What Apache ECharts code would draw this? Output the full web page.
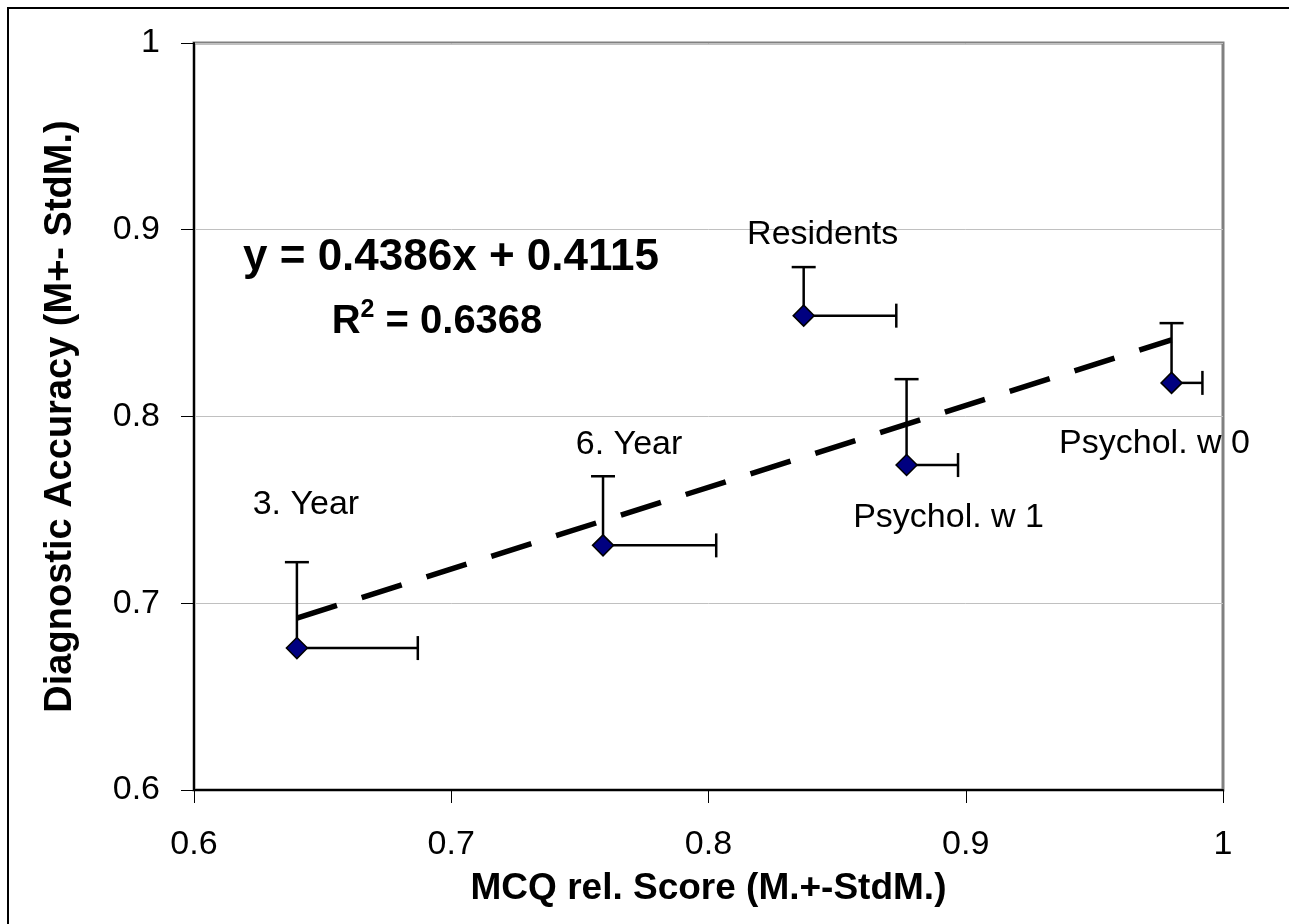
<!DOCTYPE html>
<html>
<head>
<meta charset="utf-8">
<script src="https://cdn.jsdelivr.net/npm/echarts@6/dist/echarts.min.js"></script>
<style>
  html, body { margin: 0; padding: 0; background: #fff; }
  #chart { width: 1289px; height: 924px; }
</style>
</head>
<body>
<div id="chart"></div>
<script>
// groups and their means / std error
const groups = ['3. Year', '6. Year', 'Residents', 'Psychol. w 1', 'Psychol. w 0'];
const mcqScore = [0.640, 0.759, 0.837, 0.877, 0.980];
const mcqStd = [0.047, 0.044, 0.036, 0.020, 0.012];
const accuracy = [0.676, 0.731, 0.854, 0.774, 0.818];
const accuracyStd = [0.046, 0.037, 0.026, 0.046, 0.032];
// linear trendline, ends as drawn
const trendX = [0.64, 0.98];
const trendY = [0.692, 0.841];
const xTicks = [0.6, 0.7, 0.8, 0.9, 1];
const yTicks = [0.6, 0.7, 0.8, 0.9, 1];

const FONT = "'Liberation Sans', Arial, sans-serif";
// label placement next to each point (px)
const labelOffsets = [[9, -143], [26, -101], [19, -81], [42, 53], [-17, 61]];

const chart = echarts.init(document.getElementById('chart'));

const points = groups.map((g, i) => ({
  name: g,
  value: [mcqScore[i], accuracy[i]],
  label: { offset: labelOffsets[i] }
}));
const errData = groups.map((g, i) => [mcqScore[i], accuracy[i], mcqStd[i], accuracyStd[i]]);

const option = {
  animation: false,
  backgroundColor: '#fff',
  grid: {
    left: 194, top: 43, right: 66, bottom: 134,
    show: true, borderColor: '#808080', borderWidth: 3
  },
  xAxis: {
    type: 'value',
    min: xTicks[0], max: xTicks[xTicks.length - 1], interval: 0.1,
    name: 'MCQ rel. Score (M.+-StdM.)',
    nameLocation: 'middle', nameGap: 80,
    nameTextStyle: { fontFamily: FONT, fontSize: 37, fontWeight: 'bold', color: '#000' },
    axisLine: { show: true, lineStyle: { color: '#000', width: 2 } },
    axisTick: { show: true, length: 13, lineStyle: { color: '#000', width: 1 } },
    axisLabel: { fontFamily: FONT, fontSize: 34, color: '#000', margin: 38 },
    splitLine: { show: false }
  },
  yAxis: {
    type: 'value',
    min: yTicks[0], max: yTicks[yTicks.length - 1], interval: 0.1,
    name: 'Diagnostic Accuracy (M+- StdM.)',
    nameLocation: 'middle', nameGap: 114, nameRotate: 90,
    nameTextStyle: { fontFamily: FONT, fontSize: 38, fontWeight: 'bold', color: '#000' },
    axisLine: { show: true, lineStyle: { color: '#000', width: 2 } },
    axisTick: { show: true, length: 13, lineStyle: { color: '#000', width: 1 } },
    axisLabel: { fontFamily: FONT, fontSize: 34, color: '#000', margin: 34 },
    splitLine: { show: true, lineStyle: { color: '#c0c0c0', width: 1 } }
  },
  graphic: [
    {
      type: 'rect', z: 100, silent: true,
      shape: { x: 8, y: 8, width: 1400, height: 1000 },
      style: { fill: 'none', stroke: '#000', lineWidth: 2 }
    },
    {
      type: 'text', z: 100, x: 451, y: 258,
      style: {
        text: 'y = 0.4386x + 0.4115', fill: '#000',
        font: 'bold 44px ' + FONT, textAlign: 'center', textVerticalAlign: 'middle'
      }
    },
    {
      type: 'text', z: 100, x: 437, y: 320,
      style: {
        text: '{r|R}{s|2}{r| = 0.6368}', fill: '#000',
        textAlign: 'center', textVerticalAlign: 'middle',
        rich: {
          r: { fontFamily: FONT, fontSize: 40, fontWeight: 'bold', lineHeight: 44, verticalAlign: 'bottom' },
          s: { fontFamily: FONT, fontSize: 25, fontWeight: 'bold', lineHeight: 44, verticalAlign: 'top' }
        }
      }
    }
  ],
  series: [
    {
      // error bars: + side only, like the original
      type: 'custom',
      z: 2,
      data: errData,
      renderItem: function (params, api) {
        const x = api.value(0), y = api.value(1);
        const p = api.coord([x, y]);
        const pr = api.coord([x + api.value(2), y]);
        const pt = api.coord([x, y + api.value(3)]);
        const cap = 12;
        const st = { stroke: '#000', lineWidth: 2.5 };
        return {
          type: 'group',
          children: [
            { type: 'line', shape: { x1: p[0], y1: p[1], x2: pr[0], y2: pr[1] }, style: st },
            { type: 'line', shape: { x1: pr[0], y1: pr[1] - cap, x2: pr[0], y2: pr[1] + cap }, style: st },
            { type: 'line', shape: { x1: p[0], y1: p[1], x2: pt[0], y2: pt[1] }, style: st },
            { type: 'line', shape: { x1: pt[0] - cap, y1: pt[1], x2: pt[0] + cap, y2: pt[1] }, style: st }
          ]
        };
      }
    },
    {
      type: 'line',
      z: 3,
      data: trendX.map((x, i) => [x, trendY[i]]),
      showSymbol: false,
      lineStyle: { color: '#000', width: 5.5, type: [42, 26], cap: 'butt' }
    },
    {
      type: 'scatter',
      z: 4,
      data: points,
      symbol: 'diamond',
      symbolSize: 21,
      itemStyle: { color: '#000080', borderColor: '#000', borderWidth: 1.5, opacity: 1 },
      label: {
        show: true,
        position: 'inside',
        formatter: '{b}',
        fontFamily: FONT,
        fontSize: 34,
        color: '#000'
      }
    }
  ]
};

chart.setOption(option);
</script>
</body>
</html>
